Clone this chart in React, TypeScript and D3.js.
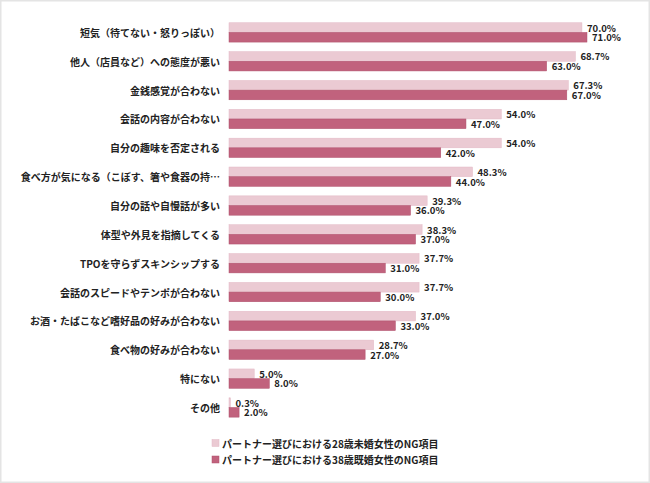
import React from "react";
import * as d3 from "d3";

const categories = [
  "短気（待てない・怒りっぽい）",
  "他人（店員など）への態度が悪い",
  "金銭感覚が合わない",
  "会話の内容が合わない",
  "自分の趣味を否定される",
  "食べ方が気になる（こぼす、箸や食器の持…",
  "自分の話や自慢話が多い",
  "体型や外見を指摘してくる",
  "TPOを守らずスキンシップする",
  "会話のスピードやテンポが合わない",
  "お酒・たばこなど嗜好品の好みが合わない",
  "食べ物の好みが合わない",
  "特にない",
  "その他",
];

const series28 = [70.0, 68.7, 67.3, 54.0, 54.0, 48.3, 39.3, 38.3, 37.7, 37.7, 37.0, 28.7, 5.0, 0.3];
const series38 = [71.0, 63.0, 67.0, 47.0, 42.0, 44.0, 36.0, 37.0, 31.0, 30.0, 33.0, 27.0, 8.0, 2.0];

const seriesNames = [
  "パートナー選びにおける28歳未婚女性のNG項目",
  "パートナー選びにおける38歳既婚女性のNG項目",
];
const seriesKeys = ["s28", "s38"];
const colors = ["#ebcad3", "#c1627d"];
const strokes = ["#e3b9c5", "#b0506c"];

const W = 650;
const H = 483;
const FONT = "'Noto Sans CJK JP', 'Noto Sans', sans-serif";

export default function App() {
  const x = d3.scaleLinear().domain([0, 100]).range([229, 733.2]);
  const y = d3
    .scaleBand<string>()
    .domain(categories)
    .range([18, 18 + 14 * 28.85])
    .paddingInner(0.33)
    .paddingOuter(0.165);
  const inner = d3.scaleBand<string>().domain(seriesKeys).range([0, y.bandwidth()]);
  const data = categories.map((c, i) => ({ c, vals: [series28[i], series38[i]] }));

  return (
    <div style={{ position: "absolute", left: 0, top: 0 }}>
      <svg width={W} height={H} style={{ display: "block", fontFamily: FONT }}>
        <rect x={0} y={0} width={W} height={H} fill="#ffffff" />
        <rect x={0.75} y={0.75} width={W - 1.5} height={H - 1.5} fill="none" stroke="#e4e4e4" strokeWidth={1.5} />
        {data.map((d) => {
          const y0 = y(d.c) as number;
          return (
            <g key={d.c}>
              <text
                x={220}
                y={y0 + y.bandwidth() / 2}
                textAnchor="end"
                dominantBaseline="central"
                fontSize={10}
                fontWeight="bold"
                fill="#222"
              >
                {d.c}
              </text>
              {d.vals.map((v, k) => {
                const by = y0 + (inner(seriesKeys[k]) as number);
                const bh = inner.bandwidth();
                return (
                  <g key={k}>
                    <rect
                      x={x(0)}
                      y={by}
                      width={Math.max(0.8, x(v) - x(0))}
                      height={bh}
                      fill={colors[k]}
                      stroke={strokes[k]}
                      strokeWidth={0.5}
                    />
                    <text
                      x={x(v) + 5}
                      y={by + bh / 2}
                      dominantBaseline="central"
                      fontSize={9.5}
                      fontWeight="bold"
                      fill="#222"
                    >
                      {v.toFixed(1) + "%"}
                    </text>
                  </g>
                );
              })}
            </g>
          );
        })}
        {seriesNames.map((n, k) => (
          <g key={n} transform={`translate(212, ${443 + k * 16.5})`}>
            <rect x={0} y={-3.5} width={7} height={7} fill={colors[k]} stroke={strokes[k]} strokeWidth={0.5} />
            <text x={10} y={0} dominantBaseline="central" fontSize={10} fontWeight="bold" fill="#222">
              {n}
            </text>
          </g>
        ))}
      </svg>
    </div>
  );
}
